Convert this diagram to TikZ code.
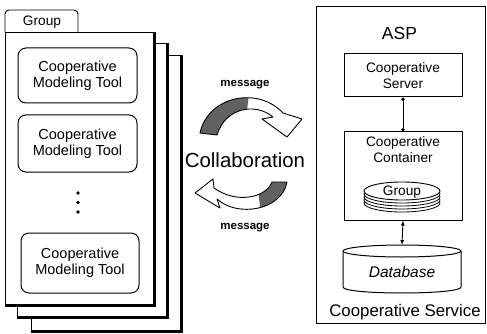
\documentclass[tikz,border=0pt]{standalone}
\usepackage{fontspec}
\setmainfont{Liberation Sans}
\usetikzlibrary{arrows.meta}
\begin{document}
\begin{tikzpicture}[x=1pt,y=-1pt,
  page/.style={fill=white,draw=black,line width=0.9pt},
  thickedge/.style={line width=3pt,line cap=square},
  toolbox/.style={draw,line width=1pt,rounded corners=8pt,align=center,inner sep=0pt,
    font=\fontsize{14.5}{16}\selectfont},
  sqbox/.style={draw,line width=1pt,align=center,inner sep=0pt,fill=white},
  txt/.style={align=center,inner sep=0pt,font=\fontsize{13.7}{16}\selectfont},
  dotc/.style={circle,fill=black,inner sep=0pt,minimum size=3.6pt},
  msg/.style={font=\bfseries\fontsize{11.5}{13}\selectfont,inner sep=0pt},
  darkfill/.style={fill=black!62},
  curvarrow/.style={draw=black,line width=0.9pt,line join=round}
]
\useasboundingbox (0,0) rectangle (487,334);

% ---------- stacked pages ----------
\draw[page] (31,55) rectangle (181,331);
\draw[thickedge] (181,55) -- (181,331) -- (31,331);
\draw[page] (17,43) rectangle (167,317);
\draw[thickedge] (167,43) -- (167,317) -- (17,317);
\draw[page,rounded corners=4pt] (5,32) -- (5,10) -- (78,10) -- (78,32);
\draw[page] (5,32) rectangle (154,305);
\draw[thickedge] (154,32) -- (154,305) -- (5,305);
\node[txt] (grouptab) at (42,22) {Group};

% ---------- tool boxes ----------
\node[toolbox,minimum width=119pt,minimum height=55pt] (t1) at (77.5,75.5) {Cooperative\\Modeling Tool};
\node[toolbox,minimum width=119pt,minimum height=57pt] (t2) at (77.5,143.5) {Cooperative\\Modeling Tool};
\node[dotc] (d1) at (78,193) {};
\node[dotc] (d2) at (78,202.5) {};
\node[dotc] (d3) at (78,212) {};
\node[toolbox,minimum width=118pt,minimum height=60pt] (t3) at (80,263) {Cooperative\\Modeling Tool};

% ---------- middle ----------
\node[msg] (m1) at (245,85) {message};
\node[inner sep=0pt,font=\fontsize{20.4}{24}\selectfont] (collab) at (245,160) {Collaboration};
\node[msg] (m2) at (245,228) {message};

\def\arrowA{(200,133) .. controls (208,96) and (258,86) .. (283,113) -- (302,119) -- (287,137) -- (262,119) -- (273,117) .. controls (255,102) and (225,108) .. (217,135) -- cycle}
\fill[white] \arrowA;
\begin{scope}
  \clip (190,80) -- (251,80) -- (243,140) -- (190,140) -- cycle;
  \fill[darkfill] \arrowA;
\end{scope}
\draw[curvarrow] \arrowA;

\def\arrowB{(287,182) .. controls (282,210) and (238,218) .. (217,199) -- (220,208) -- (195,193) -- (213,179) -- (214,188) .. controls (236,204) and (266,198) .. (272,182) -- cycle}
\fill[white] \arrowB;
\begin{scope}
  \clip (256,170) -- (300,170) -- (300,225) -- (262,225) -- cycle;
  \fill[darkfill] \arrowB;
\end{scope}
\draw[curvarrow] \arrowB;

% ---------- right: ASP ----------
\node[draw,line width=1pt,minimum width=169pt,minimum height=316pt,inner sep=0pt] (asp) at (400.5,165) {};
\node[inner sep=0pt,font=\fontsize{17.5}{20}\selectfont] (asptxt) at (399.5,33) {ASP};
\node[sqbox,minimum width=118pt,minimum height=43pt,font=\fontsize{13.7}{16}\selectfont] (srv) at (403,75.5) {Cooperative\\Server};
\node[sqbox,minimum width=118pt,minimum height=88pt] (cont) at (403,176) {};
\node[txt] (conttxt) at (403,150) {Cooperative\\Container};

% group disk
\foreach \d in {12,9,6,3}{
  \draw[fill=white,line width=0.8pt] (402,191+\d) ellipse [x radius=38, y radius=9];
}
\draw[fill=white,line width=0.9pt] (402,191) ellipse [x radius=38, y radius=9];
\node[txt] (grp) at (402,192) {Group};

% database cylinder
\draw[fill=white,line width=1pt] (343,251) -- (343,287) .. controls (343,295) and (461,295) .. (461,287) -- (461,251);
\draw[fill=white,line width=1pt] (402,251) ellipse [x radius=59, y radius=6];
\coordinate (dbtop) at (402,245);
\node[inner sep=0pt,font=\itshape\fontsize{15.5}{18}\selectfont] (db) at (402,272) {Database};

\node[inner sep=0pt,font=\fontsize{16.8}{20}\selectfont] (svc) at (405,312) {Cooperative Service};

% connectors
\draw[line width=0.9pt,{Circle[length=3.5pt]}-{Circle[length=3.5pt]}] (srv.south) -- (cont.north);
\draw[line width=0.9pt,{Latex[length=5pt,width=4pt]}-{Latex[length=5pt,width=4pt]}] (cont.south) -- (dbtop);
\end{tikzpicture}
\end{document}
